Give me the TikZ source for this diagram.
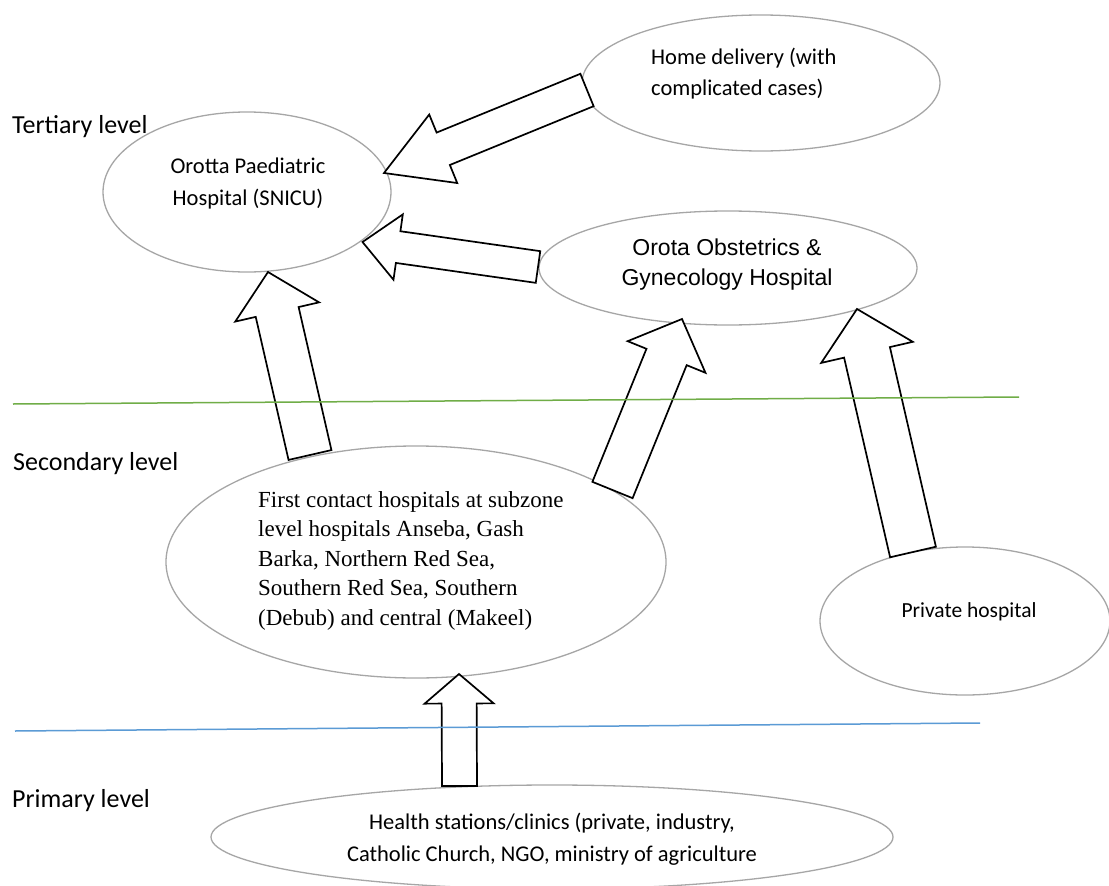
\documentclass[tikz,border=0pt]{standalone}
\usepackage{fontspec}
\setmainfont{Carlito}
\newfontfamily\arialf{Liberation Sans}
\newfontfamily\timesf{Liberation Serif}
\usetikzlibrary{shapes.geometric,calc}
\definecolor{ellgray}{HTML}{A6A6A6}
\definecolor{lvlgreen}{HTML}{70AD47}
\definecolor{lvlblue}{HTML}{5B9BD5}
% block arrow: #1 tail coordinate, #2 tip coordinate, #3 shaft half width, #4 head half width, #5 head length
\newcommand{\blockarr}[5]{%
  \coordinate (#2-neck) at ($(#2)!#5pt!(#1)$);
  \draw[blockarrow] ($(#1)!#3pt!90:(#2)$) -- ($(#2-neck)!#3pt!90:(#2)$) -- ($(#2-neck)!#4pt!90:(#2)$) -- (#2)
    -- ($(#2-neck)!#4pt!-90:(#2)$) -- ($(#2-neck)!#3pt!-90:(#2)$) -- ($(#1)!#3pt!-90:(#2)$) -- cycle;
}
\begin{document}
\begin{tikzpicture}[x=1pt,y=-1pt,
  ell/.style={ellipse, draw=ellgray, line width=1.3pt, inner sep=0pt},
  lvl/.style={anchor=base west, inner sep=0pt, font=\fontsize{26}{30}\selectfont},
  txt/.style={inner sep=0pt, anchor=base, font=\fontsize{22.5}{32}\selectfont},
  blockarrow/.style={draw=black, fill=white, line width=1.7pt, line join=miter},
  lvlline/.style={line width=1.5pt}
  ]
\useasboundingbox[fill=white] (0,0) rectangle (1109,886);

% ellipses
\node[ell, minimum width=288pt, minimum height=160pt] (paed) at (247,192) {};
\node[ell, minimum width=358pt, minimum height=136pt] (home) at (761,83) {};
\node[ell, minimum width=378pt, minimum height=114pt] (obst) at (728,268) {};
\node[ell, minimum width=500pt, minimum height=232pt] (first) at (416,562) {};
\node[ell, minimum width=290pt, minimum height=148pt] (priv) at (965,621) {};
\node[ell, minimum width=682pt, minimum height=104pt] (health) at (552,837) {};

% arrow end points
\coordinate (aTail) at (587,90);    \coordinate (aTip) at (384,173);
\coordinate (bTail) at (538,267);   \coordinate (bTip) at (362.5,242);
\coordinate (cTail) at (310,455);   \coordinate (cTip) at (268,272);
\coordinate (dTail) at (612.5,490); \coordinate (dTip) at (682,319);
\coordinate (eTail) at (913,552);   \coordinate (eTip) at (857,309);
\coordinate (fTail) at (459.5,786); \coordinate (fTip) at (459,674);

\blockarr{aTail}{aTip}{17.5}{37}{64}
\blockarr{bTail}{bTip}{16}{33}{36}
\blockarr{cTail}{cTip}{22}{43}{41}
\blockarr{dTail}{dTip}{21.7}{42}{41}
\blockarr{eTail}{eTip}{23.5}{47}{44.5}
\blockarr{fTail}{fTip}{17.5}{34.5}{29.5}

% level separators
\coordinate (gL) at (13,404);  \coordinate (gR) at (1019,397);
\coordinate (bL) at (15,731);  \coordinate (bR) at (980,723);
\draw[lvlline, lvlgreen] (gL) -- (gR);
\draw[lvlline, lvlblue] (bL) -- (bR);

% level labels
\node[lvl] (tert) at (12,133) {Tertiary level};
\node[lvl] (sec) at (13,470) {Secondary level};
\node[lvl] (prim) at (12,807) {Primary level};

% texts
\node[txt] (paedT) at (248,173) {\parbox[t]{300pt}{\centering Orotta Paediatric\\Hospital (SNICU)}};
\node[txt, anchor=base west, font=\fontsize{22.5}{31}\selectfont] (homeT) at (651,64) {\parbox[t]{250pt}{\raggedright Home delivery (with\\complicated cases)}};
\node[txt, font=\arialf\fontsize{23}{30}\selectfont] (obstT) at (727,255) {\parbox[t]{340pt}{\centering Orota Obstetrics \&\\Gynecology Hospital}};
\node[txt, anchor=base west, font=\timesf\fontsize{23}{29.5}\selectfont] (firstT) at (258,507) {\parbox[t]{400pt}{\raggedright First contact hospitals at subzone\\level hospitals Anseba, Gash\\Barka, Northern Red Sea,\\Southern Red Sea, Southern\\(Debub) and central (Makeel)}};
\node[txt, font=\fontsize{21.5}{26}\selectfont] (privT) at (969,617) {Private hospital};
\node[txt] (healthT) at (552,829) {\parbox[t]{600pt}{\centering Health stations/clinics (private, industry,\\Catholic Church, NGO, ministry of agriculture}};
\end{tikzpicture}
\end{document}
